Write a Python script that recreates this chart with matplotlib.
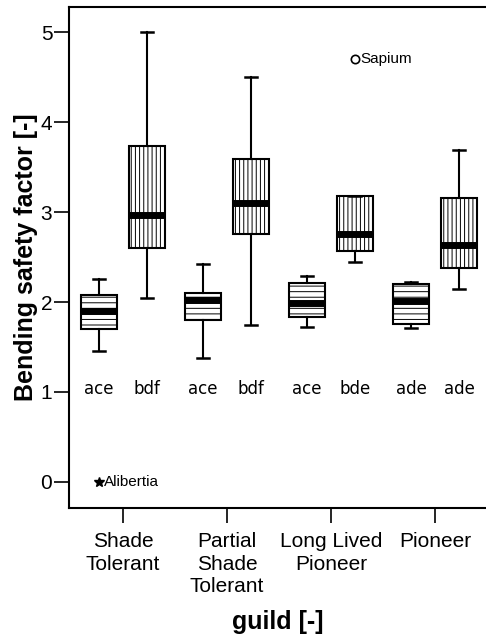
import matplotlib
matplotlib.use("Agg")
import matplotlib.pyplot as plt

# guild groups and the two boxes per guild
guilds = ['Shade\nTolerant', 'Partial\nShade\nTolerant', 'Long Lived\nPioneer', 'Pioneer']

# first box of each guild (horizontal hatch)
lo_a = [1.45, 1.38, 1.72, 1.71]
q1_a = [1.70, 1.80, 1.83, 1.76]
med_a = [1.90, 2.02, 1.99, 2.01]
q3_a = [2.08, 2.10, 2.21, 2.20]
hi_a = [2.26, 2.42, 2.29, 2.22]
letters_a = ['ace', 'ace', 'ace', 'ade']

# second box of each guild (vertical hatch)
lo_b = [2.04, 1.74, 2.44, 2.14]
q1_b = [2.60, 2.76, 2.57, 2.38]
med_b = [2.97, 3.10, 2.76, 2.63]
q3_b = [3.74, 3.59, 3.18, 3.16]
hi_b = [5.00, 4.50, 3.18, 3.69]
letters_b = ['bdf', 'bdf', 'bde', 'ade']

# outliers (box, value, name)
fliers_a = [[0.0], [], [], []]
fliers_b = [[], [], [4.70], []]
flier_names = {'a0': 'Alibertia', 'b2': 'Sapium'}

plt.rcParams['hatch.linewidth'] = 0.7
plt.rcParams['hatch.color'] = 'black'

fig = plt.figure(figsize=(4.86, 6.34), dpi=100)
ax = fig.add_axes([69 / 486, 1 - 508 / 634, 1 - 69 / 486, (508 - 7) / 634])

off = 0.23
w = 0.35
pos = [1, 2, 3, 4]

def stats(lo, q1, med, q3, hi):
    return [dict(whislo=lo[i], q1=q1[i], med=med[i], q3=q3[i], whishi=hi[i], fliers=[])
            for i in range(len(lo))]

common = dict(widths=w, patch_artist=True, showfliers=False,
              boxprops=dict(facecolor='white', edgecolor='black', linewidth=1.5),
              whiskerprops=dict(color='black', linewidth=1.5),
              capprops=dict(color='black', linewidth=1.8),
              medianprops=dict(color='black', linewidth=5, solid_capstyle='butt'),
              capwidths=0.12)

ba = ax.bxp(stats(lo_a, q1_a, med_a, q3_a, hi_a),
            positions=[p - off for p in pos], **common)
bb = ax.bxp(stats(lo_b, q1_b, med_b, q3_b, hi_b),
            positions=[p + off for p in pos], **common)
for b in ba['boxes']:
    b.set_hatch('---')
for b in bb['boxes']:
    b.set_hatch('||||')

# outliers with names
for i in range(4):
    for v in fliers_a[i]:
        ax.plot(pos[i] - off, v, marker='*', color='black', markersize=7, linestyle='none')
        ax.text(pos[i] - off + 0.05, v, flier_names['a%d' % i], fontsize=11,
                family='Liberation Sans', va='center', ha='left')
    for v in fliers_b[i]:
        ax.plot(pos[i] + off, v, marker='o', mfc='white', mec='black', mew=1.2,
                markersize=6, linestyle='none')
        ax.text(pos[i] + off + 0.05, v, flier_names['b%d' % i], fontsize=11,
                family='Liberation Sans', va='center', ha='left')

# significance letters
for i in range(4):
    ax.text(pos[i] - off, 1.03, letters_a[i], ha='center', va='center',
            fontsize=12, family='DejaVu Sans')
    ax.text(pos[i] + off, 1.03, letters_b[i], ha='center', va='center',
            fontsize=12, family='DejaVu Sans')

ax.set_xlim(0.48, 4.49)
ax.set_ylim(-0.29, 5.28)
ax.set_xticks(pos)
ax.set_xticklabels(guilds, fontsize=15, family='Liberation Sans', linespacing=1.26)
ax.set_yticks([0, 1, 2, 3, 4, 5])
ax.set_yticklabels(['0', '1', '2', '3', '4', '5'], fontsize=15, family='Liberation Sans')
ax.tick_params(axis='both', length=11, width=1.2, pad=1)
ax.tick_params(axis='x', pad=6)

ax.spines['right'].set_visible(False)
for s in ['left', 'top', 'bottom']:
    ax.spines[s].set_linewidth(1.5)

ax.set_ylabel('Bending safety factor [-]', fontsize=18, fontweight='bold',
              family='Liberation Sans', labelpad=2)
ax.set_xlabel('guild [-]', fontsize=18, fontweight='bold',
              family='Liberation Sans', labelpad=10)

fig.savefig('out.png', dpi=100)
